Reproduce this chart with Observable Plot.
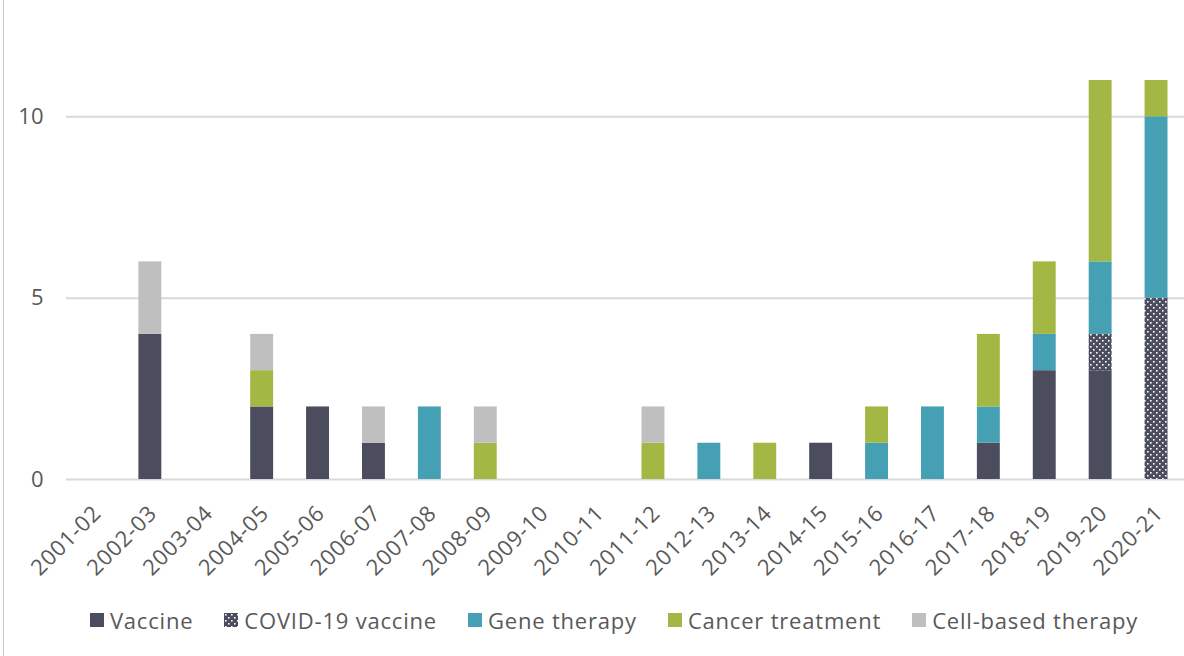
<!DOCTYPE html>
<html>
<head>
<meta charset="utf-8">
<script src="https://cdn.jsdelivr.net/npm/d3@7"></script>
<script src="https://cdn.jsdelivr.net/npm/@observablehq/plot@0.6"></script>
<style>
  body { margin: 0; background: #fff; font-family: "Open Sans", Lato, sans-serif; }
  #wrap { position: relative; width: 1184px; height: 656px; overflow: hidden; }
  #border { position: absolute; left: 3px; top: 0; width: 1px; height: 656px; background: #c8c8c8; }
  #chart { position: absolute; left: 0; top: 0; }
  #legend { position: absolute; left: 22px; top: 605px; width: 1184px; display: flex; justify-content: center; gap: 31px; font-size: 22px; letter-spacing: 0.8px; color: #595959; }
  #legend .item { display: flex; align-items: center; gap: 6px; }
  #legend svg { display: block; }
  #chart g[aria-label="x-axis tick label"] text { letter-spacing: 0.8px; }
</style>
</head>
<body>
<div id="wrap"><div id="border"></div><div id="chart"></div><div id="legend"></div></div>
<script>
const categories = ["2001-02","2002-03","2003-04","2004-05","2005-06","2006-07","2007-08","2008-09","2009-10","2010-11","2011-12","2012-13","2013-14","2014-15","2015-16","2016-17","2017-18","2018-19","2019-20","2020-21"];
const seriesNames = ["Vaccine","COVID-19 vaccine","Gene therapy","Cancer treatment","Cell-based therapy"];
const vaccine   = [0,4,0,2,2,1,0,0,0,0,0,0,0,1,0,0,1,3,3,0];
const covid     = [0,0,0,0,0,0,0,0,0,0,0,0,0,0,0,0,0,0,1,5];
const gene      = [0,0,0,0,0,0,2,0,0,0,0,1,0,0,1,2,1,1,2,5];
const cancer    = [0,0,0,1,0,0,0,1,0,0,1,0,1,0,1,0,2,2,5,1];
const cellBased = [0,2,0,1,0,1,0,1,0,0,1,0,0,0,0,0,0,0,0,0];
const yTicks = [0,5,10];
const colors = ["#4b4c5e","url(#covidDots)","#46a0b4","#a3b844","#bfbfbf"];

const seriesValues = [vaccine, covid, gene, cancer, cellBased];
const rows = [];
seriesNames.forEach((s, si) => categories.forEach((c, ci) => {
  if (seriesValues[si][ci] > 0) rows.push({category: c, series: s, value: seriesValues[si][ci]});
}));

const chart = Plot.plot({
  width: 1184,
  height: 600,
  marginLeft: 66,
  marginRight: 0,
  marginTop: 80,
  marginBottom: 121,
  style: {fontFamily: "'Open Sans', Lato, sans-serif", color: "#595959", background: "transparent"},
  x: {domain: categories, paddingInner: 0.59, paddingOuter: 0.295, round: false, label: null},
  y: {domain: [0, 11], label: null},
  color: {domain: seriesNames, range: colors, type: "ordinal"},
  marks: [
    Plot.ruleY(yTicks, {stroke: "#d9d9d9", strokeWidth: 2}),
    Plot.barY(rows, Plot.stackY({x: "category", y: "value", fill: "series", order: seriesNames})),
    Plot.axisY(yTicks, {tickSize: 0, tickPadding: 23, fontSize: 22, label: null, fill: "#595959"}),
    Plot.axisX({tickSize: 0, tickRotate: -45, tickPadding: 30, fontSize: 22, label: null, fill: "#595959", dx: 3})
  ]
});

const ns = "http://www.w3.org/2000/svg";
const patternBody = `
  <rect width="6" height="6" fill="#4b4c5e"/>
  <rect x="1" y="1" width="1.6" height="1.6" fill="#ffffff"/>
  <rect x="4" y="4" width="1.6" height="1.6" fill="#ffffff"/>`;
const defs = document.createElementNS(ns, "defs");
defs.innerHTML = `<pattern id="covidDots" patternUnits="userSpaceOnUse" width="6" height="6">${patternBody}</pattern>`;
chart.insertBefore(defs, chart.firstChild);
document.getElementById("chart").appendChild(chart);

const legend = document.getElementById("legend");
seriesNames.forEach((s, i) => {
  const item = document.createElement("div");
  item.className = "item";
  const sw = document.createElementNS(ns, "svg");
  sw.setAttribute("width", 14); sw.setAttribute("height", 14);
  if (i === 1) {
    sw.innerHTML = `<defs><pattern id="covidDotsL" patternUnits="userSpaceOnUse" width="6" height="6">${patternBody}</pattern></defs>
      <rect width="14" height="14" fill="url(#covidDotsL)"/>`;
  } else {
    sw.innerHTML = `<rect width="14" height="14" fill="${colors[i]}"/>`;
  }
  const t = document.createElement("span");
  t.textContent = s;
  item.appendChild(sw); item.appendChild(t);
  legend.appendChild(item);
});
</script>
</body>
</html>
